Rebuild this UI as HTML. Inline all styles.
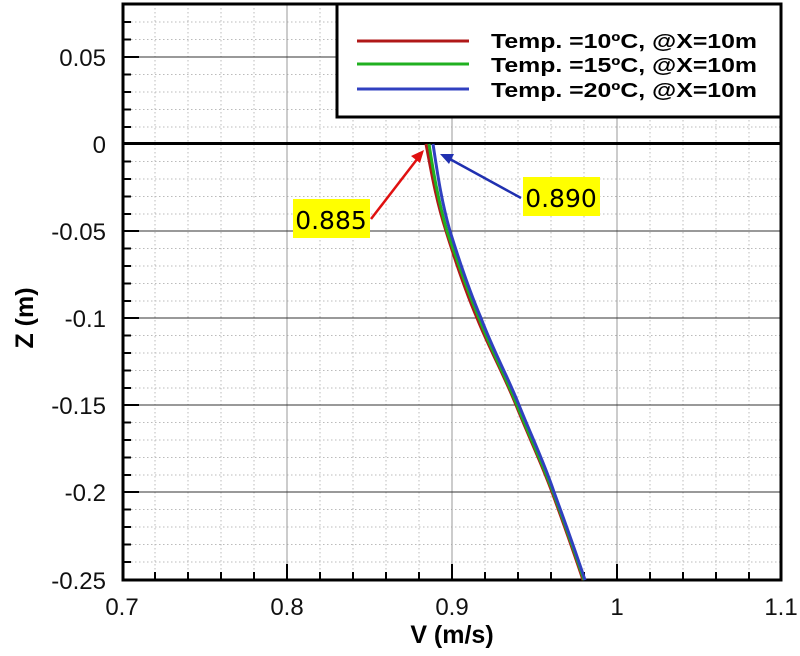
<!DOCTYPE html>
<html><head><meta charset="utf-8"><style>body{margin:0;background:#fff}svg{display:block}</style></head><body>
<svg width="800" height="656" xmlns="http://www.w3.org/2000/svg" font-family="Liberation Sans, sans-serif">
<g stroke="#bbb" stroke-width="1" stroke-dasharray="1.5,2.5">
<path d="M155,4V580M188,4V580M221,4V580M254,4V580M320,4V580M353,4V580M386,4V580M419,4V580M485,4V580M518,4V580M551,4V580M584,4V580M650,4V580M683,4V580M716,4V580M749,4V580"/>
<path d="M123,22H781M123,39.5H781M123,74.5H781M123,92H781M123,109.5H781M123,127H781M123,161.5H781M123,179H781M123,196.5H781M123,214H781M123,248.5H781M123,266H781M123,283.5H781M123,301H781M123,335.5H781M123,353H781M123,370.5H781M123,388H781M123,422.5H781M123,440H781M123,457.5H781M123,475H781M123,509.5H781M123,527H781M123,544.5H781M123,562H781"/>
</g>
<g stroke="#999" stroke-width="1"><path d="M287,4V580M452,4V580M617,4V580"/></g>
<g stroke="#333" stroke-width="1"><path d="M123,57H781M123,231H781M123,318H781M123,405H781M123,492H781"/></g>
<path d="M123,143.5H781" stroke="#000" stroke-width="3"/>
<g stroke="#000" stroke-width="2">
<path d="M123,22h8M123,39.5h8M123,74.5h8M123,92h8M123,109.5h8M123,127h8M123,161.5h8M123,179h8M123,196.5h8M123,214h8M123,248.5h8M123,266h8M123,283.5h8M123,301h8M123,335.5h8M123,353h8M123,370.5h8M123,388h8M123,422.5h8M123,440h8M123,457.5h8M123,475h8M123,509.5h8M123,527h8M123,544.5h8M123,562h8"/>
<path d="M123,57h16M123,231h16M123,318h16M123,405h16M123,492h16"/>
<path d="M287,580v-16M452,580v-16M617,580v-16"/>
<path d="M155,580v-8M188,580v-8M221,580v-8M254,580v-8M320,580v-8M353,580v-8M386,580v-8M419,580v-8M485,580v-8M518,580v-8M551,580v-8M584,580v-8M650,580v-8M683,580v-8M716,580v-8M749,580v-8"/>
</g>
<rect x="337" y="4" width="444" height="113" fill="#fff" stroke="#000" stroke-width="3"/>
<rect x="123" y="4" width="658" height="576" fill="none" stroke="#000" stroke-width="3"/>
<g stroke-width="3">
<path d="M357,41H469" stroke="#b01818"/><path d="M357,64H469" stroke="#20b020"/><path d="M357,89H469" stroke="#3040c0"/>
</g>
<g font-size="20" font-weight="bold" fill="#000">
<text x="491" y="48" textLength="266" lengthAdjust="spacingAndGlyphs">Temp. =10ºC, @X=10m</text>
<text x="491" y="72" textLength="266" lengthAdjust="spacingAndGlyphs">Temp. =15ºC, @X=10m</text>
<text x="491" y="97" textLength="266" lengthAdjust="spacingAndGlyphs">Temp. =20ºC, @X=10m</text>
</g>
<g fill="none" stroke-width="3" stroke-linejoin="round">
<path d="M426,144 C431,170 436,200 446,231 C455,260 465,290 477,318 C490,350 504,375 516,405 C528,435 541,462 552,492 C563,522 573,550 583,580" stroke="#b01818"/>
<path d="M429,144 C433,170 438,200 447,231 C457,260 467,290 479,318 C491,350 505,375 517,405 C529,435 542,462 553,492 C564,522 574,550 584,580" stroke="#20b020"/>
<path d="M433,144 C437,170 441,200 450,231 C459,260 469,290 481,318 C493,350 507,375 519,405 C531,435 544,462 554,492 C565,522 575,550 585,580" stroke="#3040c0"/>
</g>
<rect x="293" y="199" width="77" height="39" fill="#ffff00"/>
<text x="331" y="229" font-size="25" text-anchor="middle" font-family="DejaVu Sans, sans-serif">0.885</text>
<rect x="523" y="177" width="77" height="39" fill="#ffff00"/>
<text x="561" y="207" font-size="25" text-anchor="middle" font-family="DejaVu Sans, sans-serif">0.890</text>
<path d="M371,219 L418,158" stroke="#e01010" stroke-width="2.5"/>
<polygon points="424,150 411,156 420,163" fill="#e01010"/>
<path d="M521,198 L448,158" stroke="#2030b0" stroke-width="2.5"/>
<polygon points="440,154 449,164 454,154" fill="#2030b0"/>
<g font-size="24" fill="#111" text-anchor="end">
<text x="106" y="66">0.05</text><text x="106" y="153">0</text><text x="106" y="240">-0.05</text><text x="106" y="327">-0.1</text><text x="106" y="414">-0.15</text><text x="106" y="501">-0.2</text><text x="106" y="589">-0.25</text>
</g>
<g font-size="24" fill="#111" text-anchor="middle">
<text x="122" y="615">0.7</text><text x="287" y="615">0.8</text><text x="452" y="615">0.9</text><text x="617" y="615">1</text><text x="781" y="615">1.1</text>
</g>
<text x="452" y="643" font-size="25" font-weight="bold" text-anchor="middle">V (m/s)</text>
<text transform="translate(33,318) rotate(-90)" font-size="25" font-weight="bold" text-anchor="middle">Z (m)</text>
</svg>
</body></html>
